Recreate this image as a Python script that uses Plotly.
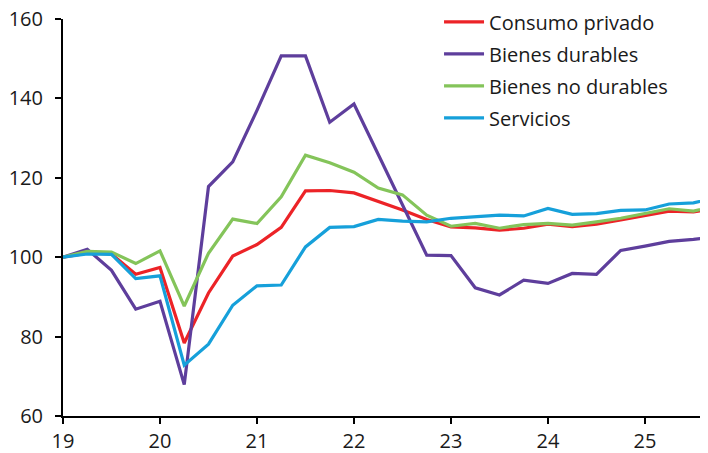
import plotly.graph_objects as go

quarters = [19 + 0.25 * i for i in range(28)]  # 2019Q1 .. 2025Q4 (last one clipped)

consumo_privado = [100, 101.0, 100.8, 95.7, 97.4, 78.4, 91.0, 100.3, 103.2, 107.5, 116.7, 116.8,
                   116.2, 114.1, 111.9, 109.5, 107.6, 107.4, 106.8, 107.3, 108.3, 107.7, 108.3,
                   109.4, 110.5, 111.6, 111.4, 112.5]
bienes_durables = [100, 102.0, 96.7, 86.9, 88.9, 67.9, 117.8, 124.0, 137.0, 150.7, 150.7, 134.0,
                   138.6, 125.9, 113.0, 100.5, 100.4, 92.3, 90.5, 94.2, 93.4, 95.9, 95.7,
                   101.7, 102.8, 104.0, 104.5, 105.2]
bienes_no_durables = [100, 101.5, 101.3, 98.4, 101.6, 87.7, 101.0, 109.6, 108.5, 115.2, 125.7, 123.8,
                      121.4, 117.4, 115.7, 110.6, 107.8, 108.5, 107.3, 108.2, 108.5, 108.1, 108.9,
                      109.8, 111.0, 112.2, 111.6, 113.1]
servicios = [100, 100.8, 100.7, 94.6, 95.3, 72.8, 78.1, 87.9, 92.8, 93.0, 102.6, 107.5,
             107.7, 109.5, 109.1, 108.9, 109.8, 110.2, 110.6, 110.4, 112.3, 110.8, 111.0,
             111.8, 111.9, 113.4, 113.7, 115.1]

series_names = ["Consumo privado", "Bienes durables", "Bienes no durables", "Servicios"]
series_values = [consumo_privado, bienes_durables, bienes_no_durables, servicios]
colors = ["#ec2327", "#5e3e9c", "#84c45a", "#16a0da"]

x_tick_vals = [19, 20, 21, 22, 23, 24, 25]
x_tick_text = ["19", "20", "21", "22", "23", "24", "25"]
y_tick_vals = [60, 80, 100, 120, 140, 160]

fig = go.Figure()
for name, vals, col in zip(series_names, series_values, colors):
    fig.add_trace(go.Scatter(x=quarters, y=vals, mode="lines", name=name,
                             legendgroup=name,
                             line=dict(color=col, width=3.2)))

font_family = "Open Sans, DejaVu Sans, sans-serif"
fig.update_layout(
    width=700, height=445,
    margin=dict(l=55, r=0, t=11, b=37, autoexpand=False),
    plot_bgcolor="white", paper_bgcolor="white",
    font=dict(family=font_family, size=20, color="#1a1a1a"),
    showlegend=True,
    legend=dict(x=0.583, y=1.042, xanchor="left", yanchor="top",
                bgcolor="rgba(0,0,0,0)", font=dict(size=20, color="#1a1a1a"),
                tracegroupgap=3, itemwidth=40),
    xaxis=dict(range=[19, 25.65], tickvals=x_tick_vals, ticktext=x_tick_text,
               showgrid=False, zeroline=False, showline=True, linecolor="black",
               linewidth=2, ticks="outside", ticklen=6, tickwidth=2, tickcolor="black",
               tickfont=dict(size=20), ticklabelstandoff=0, ticklabeloverflow="allow"),
    yaxis=dict(range=[60, 160], tickvals=y_tick_vals, showgrid=False, zeroline=False,
               showline=True, linecolor="black", linewidth=2, ticks="outside",
               ticklen=6, tickwidth=2, tickcolor="black", tickfont=dict(size=20),
               ticklabelstandoff=8, ticklabeloverflow="allow"),
)

fig.write_html("out.html")
